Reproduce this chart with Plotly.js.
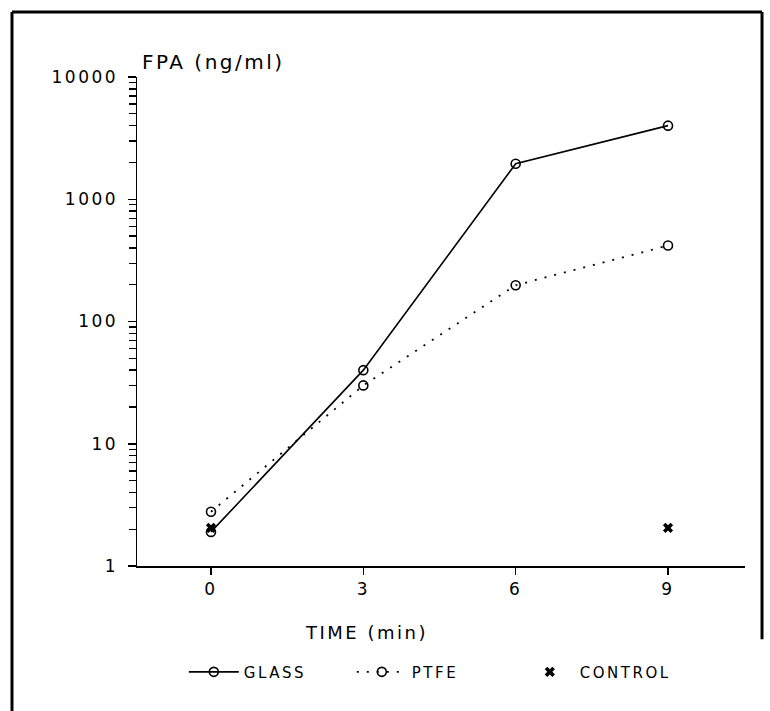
<!DOCTYPE html>
<html><head><meta charset="utf-8">
<script src="https://cdn.plot.ly/plotly-3.0.1.min.js"></script>
<style>body{margin:0;background:#fff} text{letter-spacing:2.5px}</style>
</head><body><div id="chart" style="width:770px;height:711px"></div>
<script>
const timeMin = [0, 3, 6, 9];
const glassFPA = [1.9, 40, 1950, 4000];
const ptfeFPA = [2.78, 30, 198, 418];
const controlTime = [0, 9];
const controlFPA = [2.05, 2.05];
const xTickVals = [0, 3, 6, 9];
const yTickVals = [1, 10, 100, 1000, 10000];
const yTickText = ['1', '10', '100', '1000', '10000'];

const FONT = 'DejaVu Sans, sans-serif';
const traces = [
  {x: timeMin, y: glassFPA, name: 'GLASS', mode: 'lines+markers', type: 'scatter',
   line: {color: 'black', width: 1.6},
   marker: {symbol: 'circle-open', size: 9, color: 'black', line: {width: 1.6}}},
  {x: timeMin, y: ptfeFPA, name: 'PTFE', mode: 'lines+markers', type: 'scatter',
   line: {color: 'black', width: 1.8, dash: '2px,8px'},
   marker: {symbol: 'circle-open', size: 9, color: 'black', line: {width: 1.6}}},
  {x: controlTime, y: controlFPA, name: 'CONTROL', mode: 'markers', type: 'scatter',
   marker: {symbol: 'x', size: 9, color: 'black', line: {width: 0}}}
];

const layout = {
  width: 770, height: 711,
  margin: {l: 137, r: 25, t: 77, b: 145},
  paper_bgcolor: 'white', plot_bgcolor: 'white',
  font: {family: FONT, size: 16, color: 'black'},
  showlegend: true,
  legend: {orientation: 'h', x: 0.077, xanchor: 'left', y: -0.217, yanchor: 'middle',
           entrywidth: 103, entrywidthmode: 'pixels', itemwidth: 50,
           font: {family: FONT, size: 15, color: 'black'}},
  xaxis: {range: [-1.457, 10.516], showgrid: false, zeroline: false,
          showline: true, linecolor: 'black', linewidth: 1.5,
          ticks: 'outside', ticklen: 7, tickwidth: 1.5, tickcolor: 'black',
          tickvals: xTickVals, tickfont: {family: FONT, size: 17}},
  yaxis: {type: 'log', range: [0, 4], showgrid: false, zeroline: false,
          showline: true, linecolor: 'black', linewidth: 1.5,
          ticks: 'outside', ticklen: 8, tickwidth: 1.5, tickcolor: 'black',
          tickvals: yTickVals, ticktext: yTickText, ticklabelstandoff: 6,
          tickfont: {family: FONT, size: 17},
          minor: {ticks: 'outside', ticklen: 7, tickwidth: 1.3, tickcolor: 'black', dtick: 'D1'}},
  annotations: [
    {text: 'FPA (ng/ml)', xref: 'paper', yref: 'paper', x: 0.005, y: 1.0307, xanchor: 'left', yanchor: 'middle',
     showarrow: false, font: {family: FONT, size: 20}},
    {text: 'TIME (min)', xref: 'paper', yref: 'paper', x: 0.377, y: -0.137, xanchor: 'center', yanchor: 'middle',
     showarrow: false, font: {family: FONT, size: 18}}
  ],
  shapes: [
    {type: 'line', xref: 'paper', yref: 'paper', x0: -0.2056, x1: -0.2056, y0: 1.1329, y1: -0.31, line: {color: 'black', width: 3}},
    {type: 'line', xref: 'paper', yref: 'paper', x0: -0.2056, x1: 1.028, y0: 1.1329, y1: 1.1329, line: {color: 'black', width: 3}},
    {type: 'line', xref: 'paper', yref: 'paper', x0: 1.028, x1: 1.028, y0: 1.1329, y1: -0.15, line: {color: 'black', width: 3}}
  ]
};
Plotly.newPlot('chart', traces, layout, {displayModeBar: false, staticPlot: true});
</script></body></html>
